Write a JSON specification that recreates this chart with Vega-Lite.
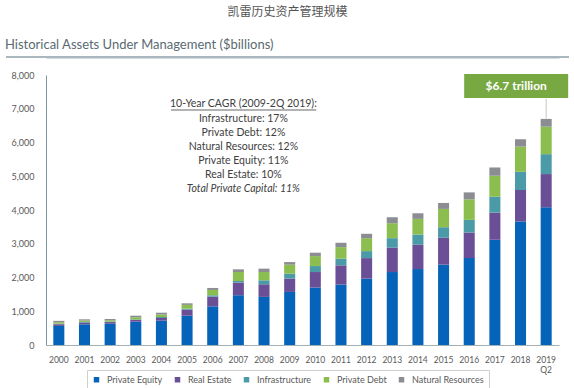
{
  "$schema": "https://vega.github.io/schema/vega-lite/v6.json",
  "padding": {"left": 5, "top": 6, "right": 4, "bottom": 0},
  "background": "white",
  "title": {"text": "凯雷历史资产管理规模", "anchor": "middle", "frame": "bounds", "font": "Noto Sans CJK SC", "fontSize": 12, "fontWeight": "normal", "color": "#555555", "offset": 20},
  "config": {"view": {"stroke": null}, "font": "Lato"},
  "datasets": {
    "aum": [
      {"year": "2000", "category": "Private Equity", "value": 565},
      {"year": "2000", "category": "Real Estate", "value": 50},
      {"year": "2000", "category": "Infrastructure", "value": 15},
      {"year": "2000", "category": "Private Debt", "value": 45},
      {"year": "2000", "category": "Natural Resources", "value": 40},
      {"year": "2001", "category": "Private Equity", "value": 613},
      {"year": "2001", "category": "Real Estate", "value": 55},
      {"year": "2001", "category": "Infrastructure", "value": 15},
      {"year": "2001", "category": "Private Debt", "value": 40},
      {"year": "2001", "category": "Natural Resources", "value": 38},
      {"year": "2002", "category": "Private Equity", "value": 630},
      {"year": "2002", "category": "Real Estate", "value": 50},
      {"year": "2002", "category": "Infrastructure", "value": 15},
      {"year": "2002", "category": "Private Debt", "value": 40},
      {"year": "2002", "category": "Natural Resources", "value": 35},
      {"year": "2003", "category": "Private Equity", "value": 690},
      {"year": "2003", "category": "Real Estate", "value": 50},
      {"year": "2003", "category": "Infrastructure", "value": 18},
      {"year": "2003", "category": "Private Debt", "value": 65},
      {"year": "2003", "category": "Natural Resources", "value": 45},
      {"year": "2004", "category": "Private Equity", "value": 720},
      {"year": "2004", "category": "Real Estate", "value": 80},
      {"year": "2004", "category": "Infrastructure", "value": 30},
      {"year": "2004", "category": "Private Debt", "value": 75},
      {"year": "2004", "category": "Natural Resources", "value": 52},
      {"year": "2005", "category": "Private Equity", "value": 868},
      {"year": "2005", "category": "Real Estate", "value": 180},
      {"year": "2005", "category": "Infrastructure", "value": 30},
      {"year": "2005", "category": "Private Debt", "value": 110},
      {"year": "2005", "category": "Natural Resources", "value": 47},
      {"year": "2006", "category": "Private Equity", "value": 1146},
      {"year": "2006", "category": "Real Estate", "value": 287},
      {"year": "2006", "category": "Infrastructure", "value": 40},
      {"year": "2006", "category": "Private Debt", "value": 158},
      {"year": "2006", "category": "Natural Resources", "value": 59},
      {"year": "2007", "category": "Private Equity", "value": 1475},
      {"year": "2007", "category": "Real Estate", "value": 375},
      {"year": "2007", "category": "Infrastructure", "value": 47},
      {"year": "2007", "category": "Private Debt", "value": 265},
      {"year": "2007", "category": "Natural Resources", "value": 80},
      {"year": "2008", "category": "Private Equity", "value": 1425},
      {"year": "2008", "category": "Real Estate", "value": 374},
      {"year": "2008", "category": "Infrastructure", "value": 118},
      {"year": "2008", "category": "Private Debt", "value": 245},
      {"year": "2008", "category": "Natural Resources", "value": 100},
      {"year": "2009", "category": "Private Equity", "value": 1572},
      {"year": "2009", "category": "Real Estate", "value": 396},
      {"year": "2009", "category": "Infrastructure", "value": 147},
      {"year": "2009", "category": "Private Debt", "value": 265},
      {"year": "2009", "category": "Natural Resources", "value": 77},
      {"year": "2010", "category": "Private Equity", "value": 1702},
      {"year": "2010", "category": "Real Estate", "value": 460},
      {"year": "2010", "category": "Infrastructure", "value": 177},
      {"year": "2010", "category": "Private Debt", "value": 295},
      {"year": "2010", "category": "Natural Resources", "value": 101},
      {"year": "2011", "category": "Private Equity", "value": 1791},
      {"year": "2011", "category": "Real Estate", "value": 569},
      {"year": "2011", "category": "Infrastructure", "value": 198},
      {"year": "2011", "category": "Private Debt", "value": 342},
      {"year": "2011", "category": "Natural Resources", "value": 129},
      {"year": "2012", "category": "Private Equity", "value": 1968},
      {"year": "2012", "category": "Real Estate", "value": 607},
      {"year": "2012", "category": "Infrastructure", "value": 207},
      {"year": "2012", "category": "Private Debt", "value": 383},
      {"year": "2012", "category": "Natural Resources", "value": 130},
      {"year": "2013", "category": "Private Equity", "value": 2162},
      {"year": "2013", "category": "Real Estate", "value": 720},
      {"year": "2013", "category": "Infrastructure", "value": 283},
      {"year": "2013", "category": "Private Debt", "value": 443},
      {"year": "2013", "category": "Natural Resources", "value": 177},
      {"year": "2014", "category": "Private Equity", "value": 2251},
      {"year": "2014", "category": "Real Estate", "value": 719},
      {"year": "2014", "category": "Infrastructure", "value": 304},
      {"year": "2014", "category": "Private Debt", "value": 463},
      {"year": "2014", "category": "Natural Resources", "value": 166},
      {"year": "2015", "category": "Private Equity", "value": 2381},
      {"year": "2015", "category": "Real Estate", "value": 796},
      {"year": "2015", "category": "Infrastructure", "value": 313},
      {"year": "2015", "category": "Private Debt", "value": 542},
      {"year": "2015", "category": "Natural Resources", "value": 177},
      {"year": "2016", "category": "Private Equity", "value": 2575},
      {"year": "2016", "category": "Real Estate", "value": 758},
      {"year": "2016", "category": "Infrastructure", "value": 375},
      {"year": "2016", "category": "Private Debt", "value": 608},
      {"year": "2016", "category": "Natural Resources", "value": 206},
      {"year": "2017", "category": "Private Equity", "value": 3118},
      {"year": "2017", "category": "Real Estate", "value": 805},
      {"year": "2017", "category": "Infrastructure", "value": 472},
      {"year": "2017", "category": "Private Debt", "value": 620},
      {"year": "2017", "category": "Natural Resources", "value": 245},
      {"year": "2018", "category": "Private Equity", "value": 3658},
      {"year": "2018", "category": "Real Estate", "value": 935},
      {"year": "2018", "category": "Infrastructure", "value": 540},
      {"year": "2018", "category": "Private Debt", "value": 746},
      {"year": "2018", "category": "Natural Resources", "value": 218},
      {"year": "2019", "category": "Private Equity", "value": 4080},
      {"year": "2019", "category": "Real Estate", "value": 985},
      {"year": "2019", "category": "Infrastructure", "value": 590},
      {"year": "2019", "category": "Private Debt", "value": 814},
      {"year": "2019", "category": "Natural Resources", "value": 230}
    ]
  },
  "resolve": {"legend": {"color": "independent"}},
  "vconcat": [
    {
      "width": 513,
      "height": 270,
      "title": {"text": "Historical Assets Under Management ($billions)", "anchor": "start", "frame": "bounds", "fontSize": 13, "fontWeight": "normal", "color": "#5a6a72", "offset": 4},
      "resolve": {"axis": {"x": "independent", "y": "independent"}},
      "layer": [
        {
          "data": {"name": "aum"},
          "transform": [
            {"calculate": "indexof(['Private Equity', 'Real Estate', 'Infrastructure', 'Private Debt', 'Natural Resources'], datum.category)", "as": "stackOrder"}
          ],
          "mark": {"type": "bar"},
          "encoding": {
            "x": {
              "field": "year", "type": "nominal",
              "scale": {"paddingInner": 0.57, "paddingOuter": 0.285},
              "axis": {"title": null, "labelAngle": 0, "ticks": false, "domainColor": "#a3b1b6", "labelColor": "#595959", "labelFontSize": 8.5, "labelPadding": 10, "labelExpr": "datum.value == '2019' ? ['2019', 'Q2'] : datum.value"}
            },
            "y": {
              "field": "value", "type": "quantitative", "stack": "zero",
              "scale": {"domain": [0, 8000], "nice": false},
              "axis": {"title": null, "values": [0, 1000, 2000, 3000, 4000, 5000, 6000, 7000, 8000], "format": ",.0f", "labelOverlap": false, "grid": false, "ticks": false, "domainColor": "#7d97a1", "labelColor": "#595959", "labelFontSize": 9, "labelPadding": 12}
            },
            "color": {
              "field": "category", "type": "nominal",
              "scale": {"domain": ["Private Equity", "Real Estate", "Infrastructure", "Private Debt", "Natural Resources"], "range": ["#0563b9", "#6a4f97", "#4b9aa8", "#8bbd4f", "#8b8d92"]},
              "legend": {"orient": "none", "legendX": 41, "legendY": 295, "direction": "horizontal", "title": null, "symbolType": "square", "symbolSize": 30, "symbolStrokeWidth": 0, "labelFontSize": 9, "labelColor": "#595959", "labelOffset": 6, "columnPadding": 10, "strokeColor": "#cfcfcf", "padding": 5}
            },
            "order": {"field": "stackOrder", "type": "quantitative", "sort": "ascending"}
          }
        },
        {
          "data": {"values": [{}]},
          "mark": {"type": "point", "opacity": 0},
          "encoding": {
            "x": {"datum": "2000", "type": "nominal", "axis": {"orient": "top", "offset": 18, "labels": false, "ticks": false, "title": null, "domainColor": "#a9b8be", "domainWidth": 2}},
            "y": {"datum": 0, "type": "quantitative", "axis": null}
          }
        },
        {
          "data": {"values": [{}]},
          "mark": {"type": "rule", "clip": false, "color": "#a9b8be", "strokeWidth": 2, "xOffset": -52.8, "x2Offset": 22.8},
          "encoding": {"x": {"datum": "2000", "type": "nominal", "axis": null}, "x2": {"datum": "2019"}, "y": {"datum": 8533, "type": "quantitative", "axis": null}}
        },
        {
          "data": {"values": [{"t": "10-Year CAGR (2009-2Q 2019):"}]},
          "mark": {"type": "text", "clip": false, "fontSize": 10.5, "color": "#404040", "baseline": "middle", "align": "center", "xOffset": 5},
          "encoding": {"x": {"datum": "2007", "type": "nominal", "axis": null}, "y": {"datum": 7132, "type": "quantitative", "axis": null}, "text": {"field": "t", "type": "nominal"}}
        },
        {
          "data": {"values": [{}]},
          "mark": {"type": "rule", "clip": false, "color": "#404040", "strokeWidth": 0.8, "xOffset": 9.6, "x2Offset": 1},
          "encoding": {"x": {"datum": "2004", "type": "nominal", "axis": null}, "x2": {"datum": "2010"}, "y": {"datum": 6963, "type": "quantitative", "axis": null}}
        },
        {
          "data": {"values": [{"t": "Infrastructure: 17%\nPrivate Debt: 12%\nNatural Resources: 12%\nPrivate Equity: 11%\nReal Estate: 10%"}]},
          "mark": {"type": "text", "clip": false, "fontSize": 10.5, "color": "#404040", "baseline": "middle", "align": "center", "xOffset": 5, "lineBreak": "\n", "lineHeight": 14},
          "encoding": {"x": {"datum": "2007", "type": "nominal", "axis": null}, "y": {"datum": 6696, "type": "quantitative", "axis": null}, "text": {"field": "t", "type": "nominal"}}
        },
        {
          "data": {"values": [{"t": "Total Private Capital: 11%"}]},
          "mark": {"type": "text", "clip": false, "fontSize": 10.5, "fontStyle": "italic", "color": "#404040", "baseline": "middle", "align": "center", "xOffset": 5},
          "encoding": {"x": {"datum": "2007", "type": "nominal", "axis": null}, "y": {"datum": 4622, "type": "quantitative", "axis": null}, "text": {"field": "t", "type": "nominal"}}
        },
        {
          "data": {"values": [{"year": "2019", "t": "$6.7 trillion"}]},
          "layer": [
            {
              "mark": {"type": "rule", "clip": false, "color": "#c3c8bb", "strokeWidth": 1},
              "encoding": {"x": {"field": "year", "type": "nominal", "axis": null}, "y": {"datum": 6715, "type": "quantitative", "axis": null}, "y2": {"datum": 7289}}
            },
            {
              "mark": {"type": "point", "clip": false, "shape": "M-4.333,-1H4.333V1H-4.333Z", "size": 576, "filled": true, "color": "#78a842", "opacity": 1, "xOffset": -30},
              "encoding": {"x": {"field": "year", "type": "nominal", "axis": null}, "y": {"datum": 7674, "type": "quantitative", "axis": null}}
            },
            {
              "mark": {"type": "text", "clip": false, "fontSize": 12, "fontWeight": "bold", "color": "white", "baseline": "middle", "align": "center", "xOffset": -30},
              "encoding": {"x": {"field": "year", "type": "nominal", "axis": null}, "y": {"datum": 7674, "type": "quantitative", "axis": null}, "text": {"field": "t", "type": "nominal"}}
            }
          ]
        }
      ]
    }
  ]
}
